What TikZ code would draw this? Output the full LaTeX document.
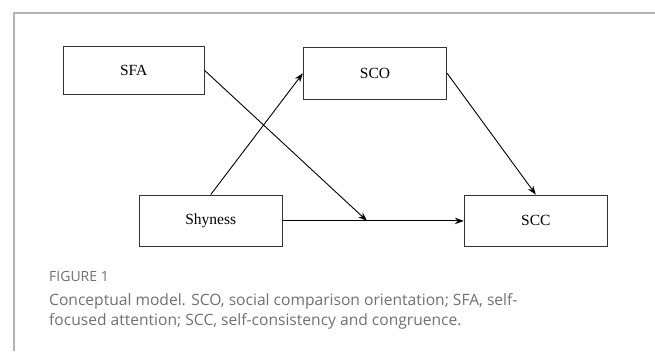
\documentclass[tikz,border=0pt]{standalone}
\usepackage{fontspec}
\setmainfont{Liberation Serif}
\newfontfamily\capfont{Open Sans}
\usetikzlibrary{arrows.meta}
\definecolor{framegray}{HTML}{B4B4B4}
\definecolor{capgray}{HTML}{707070}
\begin{document}
\begin{tikzpicture}[x=1pt,y=-1pt,
  varbox/.style={draw=black!80,line width=0.9pt,inner sep=0pt,
    font=\fontsize{15.5}{18}\selectfont},
  path/.style={-{Stealth[length=9pt,width=6.5pt]},line width=0.9pt},
  captext/.style={anchor=base west,inner sep=0pt,text=capgray,
    font=\capfont\fontsize{15.6}{19}\selectfont}]
\useasboundingbox (0,0) rectangle (655,351);
\draw[framegray,line width=1.3pt] (14,351) -- (14,13) -- (655,13);

\node[varbox,minimum width=140.7pt,minimum height=47.3pt] (sfa) at (133.7,70.3) {SFA};
\node[varbox,minimum width=143.4pt,minimum height=52pt] (sco) at (375,73.3) {SCO};
\node[varbox,minimum width=143.3pt,minimum height=51.7pt] (shy) at (210.7,220.9) {Shyness};
\node[varbox,minimum width=143pt,minimum height=51.7pt] (scc) at (535.8,220.9) {SCC};
\coordinate (mod) at (367,220.9);

\draw[path] (shy.north) -- (sco.west);
\draw[path] (sco.east) -- (scc.north);
\draw[path] (shy.east) -- (scc.west);
\draw[path] (sfa.east) -- (mod);

\node[captext,font=\capfont\fontsize{14}{16}\selectfont] (fig) at (49,281.7) {FIGURE 1};
\node[captext] (cap1) at (49,305) {Conceptual model. SCO, social comparison orientation; SFA, self-};
\node[captext] (cap2) at (49,325) {focused attention; SCC, self-consistency and congruence.};
\end{tikzpicture}
\end{document}
